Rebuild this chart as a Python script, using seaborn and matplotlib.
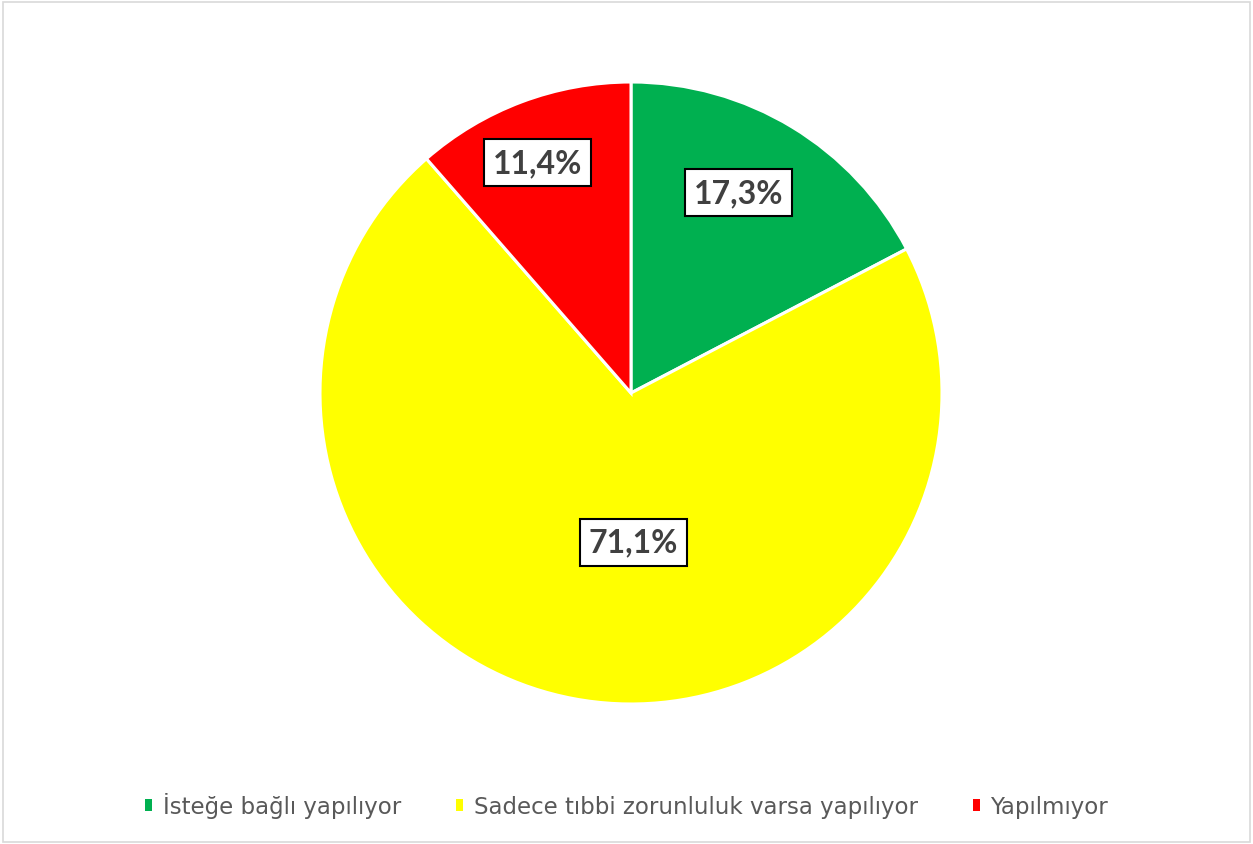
import numpy as np
import matplotlib
matplotlib.use("Agg")
import matplotlib.pyplot as plt
from matplotlib.patches import Patch
import seaborn as sns

categories = ["İsteğe bağlı yapılıyor", "Sadece tıbbi zorunluluk varsa yapılıyor", "Yapılmıyor"]
shares = [17.3, 71.1, 11.4]
pct_labels = ["17,3%", "71,1%", "11,4%"]
colors = ["#00B050", "#FFFF00", "#FF0000"]

# label placement: fraction of radius and angle nudge (degrees) from wedge middle
label_dist = [0.73, 0.48, 0.80]
label_turn = [3.0, 11.5, 1.5]

sns.set_theme(style="white")
plt.rcParams["font.family"] = ["Lato", "DejaVu Sans"]

fig = plt.figure(figsize=(12.53, 8.45), dpi=100)
ax = fig.add_axes([320 / 1253, 140 / 845, 622 / 1253, 622 / 845])

wedges, _ = ax.pie(
    shares,
    colors=colors,
    startangle=90,
    counterclock=False,
    wedgeprops=dict(edgecolor="white", linewidth=2.2),
)
ax.set_xlim(-1, 1)
ax.set_ylim(-1, 1)
ax.set_aspect("equal")

for w, lab, d, t in zip(wedges, pct_labels, label_dist, label_turn):
    mid = np.deg2rad((w.theta1 + w.theta2) / 2 + t)
    ax.text(
        d * np.cos(mid), d * np.sin(mid), lab,
        ha="center", va="center",
        fontsize=23, fontweight="bold", color="#404040",
        bbox=dict(boxstyle="square,pad=0.28", facecolor="white",
                  edgecolor="black", linewidth=1.5),
    )

# legend squares without the white wedge edge
handles = [Patch(facecolor=w.get_facecolor(), edgecolor="none") for w in wedges]

fig.legend(
    handles, categories,
    loc="center", bbox_to_anchor=(0.5, 1 - 806 / 845),
    ncol=3, frameon=False,
    prop={"family": "DejaVu Sans", "size": 16.5}, labelcolor="#595959",
    handlelength=0.32, handleheight=0.4, handletextpad=0.45,
    columnspacing=2.4,
)

fig.patches.append(plt.Rectangle((0.002, 0.002), 0.996, 0.994,
                                 transform=fig.transFigure, fill=False,
                                 edgecolor="#D9D9D9", linewidth=1.2))

fig.savefig("out.png", dpi=100, facecolor="white")
